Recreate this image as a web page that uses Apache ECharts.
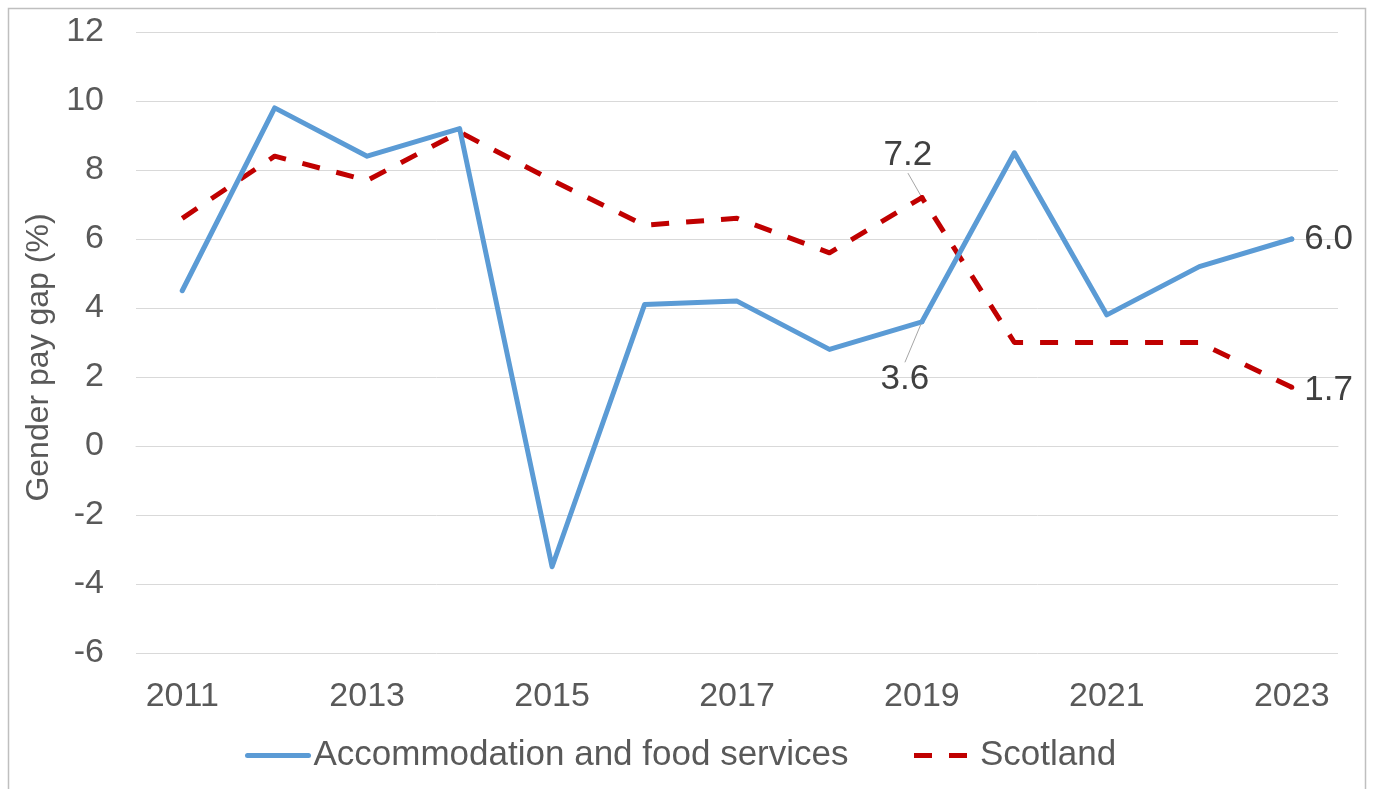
<!DOCTYPE html>
<html>
<head>
<meta charset="utf-8">
<script src="https://cdn.jsdelivr.net/npm/echarts@6/dist/echarts.min.js"></script>
<style>
html,body{margin:0;padding:0;background:#fff;}
#chart{width:1373px;height:789px;}
</style>
</head>
<body>
<div id="chart"></div>
<script>
const years = ['2011','2012','2013','2014','2015','2016','2017','2018','2019','2020','2021','2022','2023'];
const accommodation = [4.5, 9.8, 8.4, 9.2, -3.5, 4.1, 4.2, 2.8, 3.6, 8.5, 3.8, 5.2, 6.0];
const scotland = [6.6, 8.4, 7.7, 9.1, 7.7, 6.4, 6.6, 5.6, 7.2, 3.0, 3.0, 3.0, 1.7];
const seriesNames = ['Accommodation and food services', 'Scotland'];
const yAxisTitle = 'Gender pay gap (%)';

const FONT = "'Liberation Sans', Arial, sans-serif";
const TXT = '#595959';
const BLUE = '#5b9bd5';
const RED = '#c00000';

const lastIdx = years.length - 1;
function buildData(values, color, special) {
  return values.map((v, i) => {
    const s = special[i];
    if (!s) return v;
    return {
      value: v,
      symbol: 'circle',
      symbolSize: 5,
      itemStyle: { color: color },
      label: Object.assign({
        show: true,
        formatter: (p) => Number(p.value).toFixed(1),
        fontFamily: FONT, fontSize: 35, color: '#404040'
      }, s.label),
      labelLine: s.labelLine || { show: false }
    };
  });
}

const leader = { show: true, lineStyle: { color: '#a6a6a6', width: 1 } };
const blueSpecial = {};
blueSpecial[8] = { label: { position: 'bottom', distance: 5 }, labelLine: leader, layout: { dx: -17, dy: 33 } };
blueSpecial[lastIdx] = { label: { position: 'right', distance: 10 } };
const redSpecial = {};
redSpecial[8] = { label: { position: 'top', distance: 5 }, labelLine: leader, layout: { dx: -14, dy: -17 } };
redSpecial[lastIdx] = { label: { position: 'right', distance: 10 }, layout: { dy: 3 } };

function layoutFor(special) {
  return function (p) {
    const s = special[p.dataIndex];
    return s && s.layout ? s.layout : {};
  };
}

const chart = echarts.init(document.getElementById('chart'), null, { renderer: 'canvas' });
chart.setOption({
  animation: false,
  backgroundColor: '#fff',
  graphic: [{
    type: 'rect', left: 6, top: 6, silent: true, z: -10,
    shape: { width: 1357, height: 820 },
    style: { fill: 'none', stroke: '#bfbfbf', lineWidth: 1.5 }
  }],
  grid: { left: 136, right: 35, top: 32, bottom: 136, containLabel: false },
  legend: {
    left: 245, top: 738, padding: 0,
    itemWidth: 61, itemHeight: 14, itemGap: 63,
    itemStyle: { opacity: 0 },
    lineStyle: { width: 5 },
    textStyle: { fontFamily: FONT, fontSize: 35, color: TXT },
    data: seriesNames
  },
  xAxis: {
    type: 'category',
    data: years,
    boundaryGap: true,
    axisLine: { show: true, lineStyle: { color: '#d9d9d9', width: 1 } },
    axisTick: { show: false },
    axisLabel: { interval: 1, margin: 27, fontFamily: FONT, fontSize: 34, color: TXT }
  },
  yAxis: {
    type: 'value',
    min: -6, max: 12, interval: 2,
    name: yAxisTitle,
    nameLocation: 'middle',
    nameGap: 78,
    nameRotate: 90,
    nameTextStyle: { fontFamily: FONT, fontSize: 32, color: TXT, padding: [0, 30, 0, 0] },
    axisLine: { show: false },
    axisTick: { show: false },
    splitLine: { lineStyle: { color: '#d9d9d9', width: 1 } },
    axisLabel: { margin: 32, fontFamily: FONT, fontSize: 34, color: TXT }
  },
  series: [
    {
      name: seriesNames[0],
      type: 'line',
      symbol: 'none',
      data: buildData(accommodation, BLUE, blueSpecial),
      lineStyle: { color: BLUE, width: 5, join: 'round', cap: 'round' },
      itemStyle: { color: BLUE },
      labelLayout: layoutFor(blueSpecial),
      z: 3
    },
    {
      name: seriesNames[1],
      type: 'line',
      symbol: 'none',
      data: buildData(scotland, RED, redSpecial),
      lineStyle: { color: RED, width: 5, type: [18, 17], join: 'round', cap: 'butt' },
      itemStyle: { color: RED },
      labelLayout: layoutFor(redSpecial),
      z: 2
    }
  ]
});
</script>
</body>
</html>
